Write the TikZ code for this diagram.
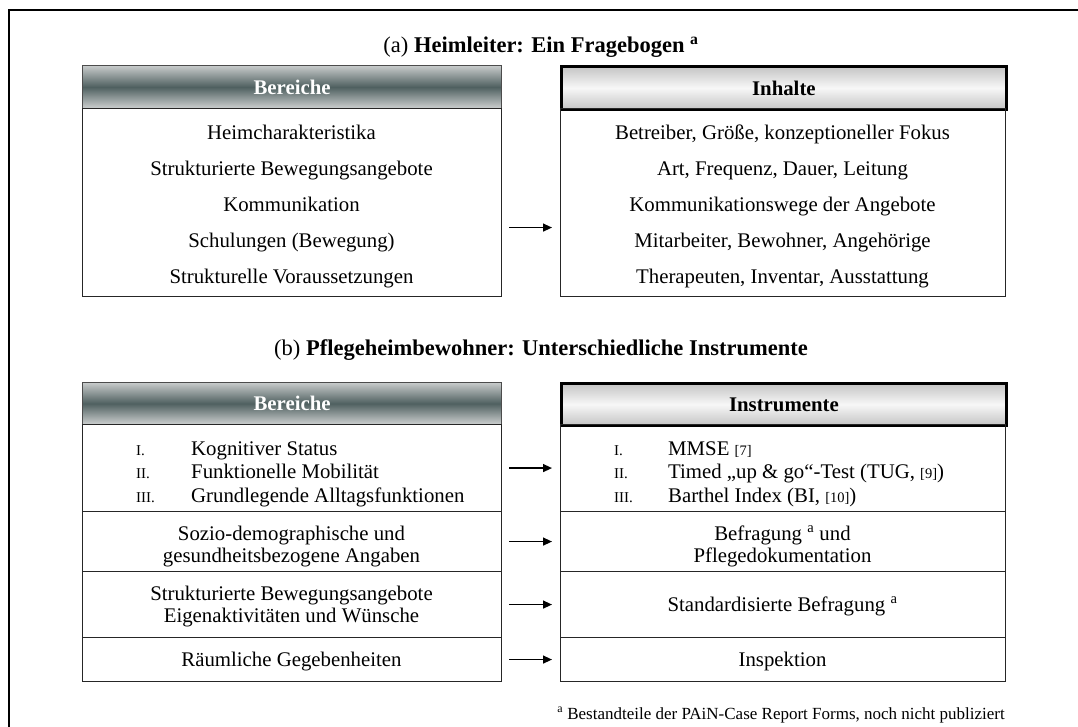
\documentclass[tikz,border=0pt]{standalone}
\usepackage{fontspec}
\setmainfont{Liberation Serif}
\usetikzlibrary{arrows.meta}
\newcommand{\bfs}{\fontsize{20.8}{24}\selectfont}
\newcommand{\tfs}{\fontsize{22.5}{27}\selectfont}
\newcommand{\nfs}{\fontsize{15}{18}\selectfont}
\newcommand{\rfs}{\fontsize{14.5}{17}\selectfont}
\newcommand{\ffs}{\fontsize{17}{20}\selectfont}
\definecolor{slate}{HTML}{4F6060}
\definecolor{slatelt}{HTML}{C8CBCB}
\definecolor{hgray}{HTML}{C4C4C4}
\begin{document}
\begin{tikzpicture}[x=1pt,y=-1pt,
  txt/.style={inner sep=0pt,font=\bfs,anchor=base},
  ltxt/.style={inner sep=0pt,font=\bfs,anchor=base west},
  num/.style={inner sep=0pt,font=\nfs,anchor=base west},
  cellbox/.style={draw=black!85,line width=1.1pt,inner sep=0pt,anchor=north west,minimum height=#1},
  lcell/.style={cellbox=#1,minimum width=419pt},
  rcell/.style={cellbox=#1,minimum width=445pt},
  darkhdr/.style={lcell=#1,draw=black!70,top color=slatelt,bottom color=slatelt!90!white,middle color=slate,text=white,font=\bfs\bfseries},
  lighthdr/.style={rcell=#1,draw=black,line width=2.8pt,top color=hgray,bottom color=hgray,middle color=white!97!black,text=black,font=\bfs\bfseries},
  conn/.style={line width=1.3pt,-{Triangle[length=9pt,width=8pt]},shorten <=7pt,shorten >=8pt}
]
\useasboundingbox (0,0) rectangle (1078,726);
\begin{scope}
\clip (0,0) rectangle (1078,726);
\draw[line width=1.8pt] (9,10) rectangle (1120,760);
\end{scope}

% ---------- (a) ----------
\node[inner sep=0pt,font=\tfs,anchor=base] (ta) at (541,52) {(a) \textbf{Heimleiter: Ein Fragebogen} \textsuperscript{\textbf{a}}};

\node[darkhdr=43pt] (lha) at (82,65) {Bereiche};
\node[lcell=188pt] (lba) at (82,108) {};
\node[lighthdr=43pt] (rha) at (560,65) {Inhalte};
\node[rcell=188pt] (rba) at (560,108) {};

\node[txt] (la1) at (291.5,139) {Heimcharakteristika};
\node[txt] (la2) at (291.5,175) {Strukturierte Bewegungsangebote};
\node[txt] (la3) at (291.5,211) {Kommunikation};
\node[txt] (la4) at (291.5,247) {Schulungen (Bewegung)};
\node[txt] (la5) at (291.5,283) {Strukturelle Voraussetzungen};

\node[txt] (ra1) at (782.5,139) {Betreiber, Größe, konzeptioneller Fokus};
\node[txt] (ra2) at (782.5,175) {Art, Frequenz, Dauer, Leitung};
\node[txt] (ra3) at (782.5,211) {Kommunikationswege der Angebote};
\node[txt] (ra4) at (782.5,247) {Mitarbeiter, Bewohner, Angehörige};
\node[txt] (ra5) at (782.5,283) {Therapeuten, Inventar, Ausstattung};

\draw[conn] ([yshift=-25pt]lba.east) -- ([yshift=-25pt]rba.west);

% ---------- (b) ----------
\node[inner sep=0pt,font=\tfs,anchor=base] (tb) at (541,355) {(b) \textbf{Pflegeheimbewohner: Unterschiedliche Instrumente}};

\node[darkhdr=42pt] (lhb) at (82,382) {Bereiche};
\node[lcell=87pt] (l1) at (82,424) {};
\node[lcell=60pt] (l2) at (82,511) {};
\node[lcell=66pt] (l3) at (82,571) {};
\node[lcell=44pt] (l4) at (82,637) {};

\node[lighthdr=42pt] (rhb) at (560,382) {Instrumente};
\node[rcell=87pt] (r1) at (560,424) {};
\node[rcell=60pt] (r2) at (560,511) {};
\node[rcell=66pt] (r3) at (560,571) {};
\node[rcell=44pt] (r4) at (560,637) {};

\node[num] (ln1) at (136,455) {I.};
\node[num] (ln2) at (136,478) {II.};
\node[num] (ln3) at (136,502) {III.};
\node[ltxt] (lt1) at (191,455) {Kognitiver Status};
\node[ltxt] (lt2) at (191,478) {Funktionelle Mobilität};
\node[ltxt] (lt3) at (191,502) {Grundlegende Alltagsfunktionen};

\node[num] (rn1) at (614,455) {I.};
\node[num] (rn2) at (614,478) {II.};
\node[num] (rn3) at (614,502) {III.};
\node[ltxt] (rt1) at (668,455) {MMSE {\rfs [7]}};
\node[ltxt] (rt2) at (668,478) {Timed „up \& go“-Test (TUG, {\rfs [9]})};
\node[ltxt] (rt3) at (668,502) {Barthel Index (BI, {\rfs [10]})};

\node[txt] (l2a) at (291.5,540) {Sozio-demographische und};
\node[txt] (l2b) at (291.5,562) {gesundheitsbezogene Angaben};
\node[txt] (r2a) at (782.5,540) {Befragung \textsuperscript{a} und};
\node[txt] (r2b) at (782.5,562) {Pflegedokumentation};

\node[txt] (l3a) at (291.5,600) {Strukturierte Bewegungsangebote};
\node[txt] (l3b) at (291.5,622) {Eigenaktivitäten und Wünsche};
\node[txt] (r3a) at (782.5,611) {Standardisierte Befragung \textsuperscript{a}};

\node[txt] (l4a) at (291.5,666) {Räumliche Gegebenheiten};
\node[txt] (r4a) at (782.5,666) {Inspektion};

\draw[conn] (l1.east) -- (r1.west);
\draw[conn] (l2.east) -- (r2.west);
\draw[conn] (l3.east) -- (r3.west);
\draw[conn] (l4.east) -- (r4.west);

\node[inner sep=0pt,font=\ffs,anchor=base east] (fn) at (1005,719) {\textsuperscript{a} Bestandteile der PAiN-Case Report Forms, noch nicht publiziert};
\end{tikzpicture}
\end{document}
